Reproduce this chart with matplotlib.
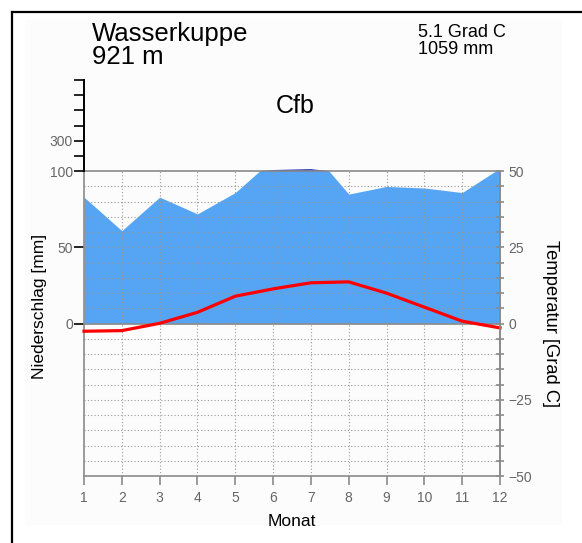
import numpy as np
import matplotlib
matplotlib.use("Agg")
import matplotlib.pyplot as plt
from matplotlib.patches import Rectangle
from matplotlib.lines import Line2D

plt.rcParams['font.family'] = ['Liberation Sans', 'DejaVu Sans']

# Station data: Wasserkuppe (921 m)
station = "Wasserkuppe"
elevation = "921 m"
climate_class = "Cfb"
months = np.arange(1, 13)
precip_mm = np.array([83, 61, 83, 72, 86, 108, 114, 85, 90, 89, 86, 102])
temp_c = np.array([-2.5, -2.3, 0.1, 3.7, 9.0, 11.4, 13.4, 13.7, 10.0, 5.4, 0.8, -1.4])

W, H = 582, 543
fig = plt.figure(figsize=(W / 100, H / 100), dpi=100)


def fx(x):
    return x / W


def fy(y):
    return 1 - y / H


# faint panel and black frame (left / top)
fig.add_artist(Rectangle((fx(25), fy(525)), fx(562) - fx(25), fy(20) - fy(525),
                         facecolor='#fcfcfc', edgecolor='none', zorder=0))
fig.add_artist(Line2D([fx(12), fx(12)], [fy(12), 0], color='black', lw=1.6))
fig.add_artist(Line2D([fx(12), 1], [fy(12), fy(12)], color='black', lw=1.6))

# axes: y in temperature units; 10 mm = 5 degC up to 100 mm, then 100 mm = 5 degC
ax = fig.add_axes([fx(84), fy(476), fx(500) - fx(84), fy(79.8) - fy(476)])
ax.set_xlim(1, 12)
ax.set_ylim(-50, 80)
ax.patch.set_alpha(0)

p_scaled = precip_mm / 2.0
p_upper = 50 + (precip_mm - 100) / 20.0

blue_light = '#55a5f4'
blue_dark = '#2233c0'
grid_c = '#9a9a9a'
axis_c = '#8a8a8a'

# humid area (up to 100 mm)
poly = ax.fill_between(months, 0, p_scaled, color=blue_light, lw=0, zorder=1)
clip = Rectangle((1, 0), 11, 50, transform=ax.transData)
poly.set_clip_path(clip)

# perhumid area above 100 mm on reduced scale
ax.fill_between(months, 50, p_upper, where=p_upper >= 50, interpolate=True,
                color=blue_dark, lw=0, zorder=1)

# dotted grid
for t in np.arange(-45, 50, 5):
    if t == 0:
        continue
    ax.plot([1, 12], [t, t], color=grid_c, lw=0.8, ls=(0, (1, 2)), zorder=2)
for m in months[1:-1]:
    ax.plot([m, m], [-50, 50], color=grid_c, lw=0.8, ls=(0, (1, 2)), zorder=2)

# solid reference lines
ax.plot([1, 12], [0, 0], color=axis_c, lw=1.2, zorder=3)
ax.plot([1, 12], [50, 50], color=axis_c, lw=1.2, zorder=3)

# temperature curve
ax.plot(months, temp_c, color='#ff0000', lw=2.3, zorder=4, clip_on=False)

# spines
ax.spines['top'].set_visible(False)
ax.spines['left'].set_bounds(-50, 50)
ax.spines['right'].set_bounds(-50, 50)
for s in ['left', 'right', 'bottom']:
    ax.spines[s].set_color(axis_c)
    ax.spines[s].set_linewidth(1.2)
ax.plot([1, 1], [50, 80], color='black', lw=1.4, clip_on=False, zorder=5)

# left axis: precipitation
left_ticks = [0, 25, 50, 55, 60, 65, 70, 75, 80]
left_labels = ['0', '50', '100', '', '300', '', '', '', '']
ax.set_yticks(left_ticks)
ax.set_yticklabels(left_labels)
ax.tick_params(axis='y', direction='out', length=7.5, width=1.2, pad=0.5,
               labelsize=10, labelcolor='#666666')
for tk, v in zip(ax.yaxis.get_major_ticks(), left_ticks):
    tk.tick1line.set_color('black' if v >= 50 else axis_c)

# bottom axis: months
ax.set_xticks(months)
ax.set_xticklabels([str(m) for m in months])
ax.tick_params(axis='x', direction='out', length=6.5, width=1.2, pad=4,
               labelsize=10, labelcolor='#666666', color=axis_c)

# right axis: temperature
ax2 = ax.twinx()
ax2.set_ylim(ax.get_ylim())
ax2.set_position(ax.get_position())
for s in ['top', 'left', 'bottom']:
    ax2.spines[s].set_visible(False)
ax2.spines['right'].set_bounds(-50, 50)
ax2.spines['right'].set_color(axis_c)
ax2.spines['right'].set_linewidth(1.2)
right_ticks = np.arange(-50, 55, 5)
ax2.set_yticks(right_ticks)
ax2.set_yticklabels(['\u221250' if v == -50 else '\u221225' if v == -25 else
                     str(v) if v in (0, 25, 50) else '' for v in right_ticks])
ax2.tick_params(axis='y', direction='inout', length=6, width=1.2, pad=3,
                labelsize=10, labelcolor='#666666', color=axis_c)

# titles and labels
fig.text(fx(92), fy(41), station, fontsize=18.5, va='baseline', ha='left')
fig.text(fx(92), fy(64), elevation, fontsize=18.5, va='baseline', ha='left')
fig.text(fx(418), fy(36.7), "5.1 Grad C", fontsize=13, va='baseline', ha='left')
fig.text(fx(418), fy(53.5), "1059 mm", fontsize=13, va='baseline', ha='left')
fig.text(fx(295), fy(113), climate_class, fontsize=18, va='baseline', ha='center')
fig.text(fx(292), fy(526), "Monat", fontsize=12.5, va='baseline', ha='center')
fig.text(fx(40), fy(306), "Niederschlag [mm]", fontsize=12.5, rotation=90,
         va='center', ha='center')
fig.text(fx(551), fy(323), "Temperatur [Grad C]", fontsize=13.2, rotation=-90,
         va='center', ha='center')

fig.savefig("out.png", dpi=100)
